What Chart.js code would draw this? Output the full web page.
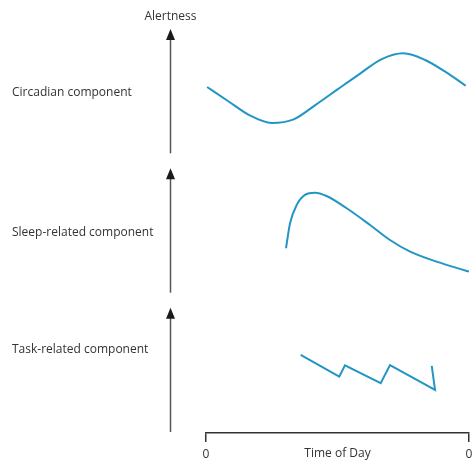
<!DOCTYPE html>
<html>
<head>
<meta charset="utf-8">
<script src="https://cdn.jsdelivr.net/npm/chart.js@4"></script>
<style>
  html, body { margin: 0; padding: 0; background: #fff; }
</style>
</head>
<body>
<canvas id="c" width="472" height="461"></canvas>
<script>
// Three components of alertness over the day (hours 0–24, arbitrary alertness units 0–10)
const componentNames = ['Circadian component', 'Sleep-related component', 'Task-related component'];
const yTitle = 'Alertness';
const xTitle = 'Time of Day';
const xTicks = [0, 24];
const xTickLabels = ['0', '0'];

const circadianHours = [0.1, 2, 4, 6, 8, 10, 12, 14, 16, 18, 20, 22, 23.7];
const circadianAlert = [4.83, 3.83, 2.79, 2.25, 2.51, 3.55, 4.66, 5.76, 6.82, 7.25, 6.77, 5.84, 4.92];

const sleepHours = [7.3, 7.67, 8.28, 9.03, 9.95, 11.0, 12.84, 14.97, 16.79, 18.62, 21.05, 24.0];
const sleepAlert = [3.26, 5.05, 6.37, 7.09, 7.25, 7.01, 6.13, 4.93, 3.85, 3.02, 2.30, 1.58];

const taskHours = [8.64, 12.16, 12.68, 15.94, 16.79, 20.90, 20.60];
const taskAlert = [5.60, 4.04, 4.86, 3.57, 4.88, 3.09, 4.81];

// vertical level (in panel units) at which each component name sits
const labelLevels = [4.4, 4.4, 6.0];

const panelAxes = ['yCirc', 'ySleep', 'yTask'];
const lineColor = '#2196c4';
const textColor = '#333333';
const fontFamily = '"Open Sans", "Noto Sans", sans-serif';

const toPoints = (xs, ys) => xs.map((x, i) => ({ x: x, y: ys[i] }));

// Arrows, component names and axis captions
const componentArrows = {
  id: 'componentArrows',
  afterDraw(chart) {
    const ctx = chart.ctx;
    const area = chart.chartArea;
    const ax = area.left - 35.5;
    ctx.save();
    ctx.font = '12px ' + fontFamily;
    panelAxes.forEach((id, i) => {
      const s = chart.scales[id];
      const tip = s.top + 14;
      const base = s.bottom - 1;
      ctx.strokeStyle = '#555555';
      ctx.lineWidth = 1.5;
      ctx.beginPath();
      ctx.moveTo(ax, base);
      ctx.lineTo(ax, tip + 8);
      ctx.stroke();
      ctx.fillStyle = '#1a1a1a';
      ctx.beginPath();
      ctx.moveTo(ax, tip);
      ctx.lineTo(ax - 4.5, tip + 11);
      ctx.lineTo(ax + 4.5, tip + 11);
      ctx.closePath();
      ctx.fill();
      ctx.fillStyle = textColor;
      ctx.textAlign = 'left';
      ctx.textBaseline = 'middle';
      ctx.fillText(componentNames[i], 12, s.getPixelForValue(labelLevels[i]));
    });
    ctx.fillStyle = textColor;
    ctx.textAlign = 'center';
    ctx.textBaseline = 'middle';
    ctx.fillText(yTitle, ax, 17);
    const xs = chart.scales.x;
    ctx.fillText(xTitle, (xs.left + xs.right) / 2, xs.top + 21);
    ctx.restore();
  }
};

const panelScale = () => ({
  type: 'linear',
  position: 'left',
  stack: 'alertness',
  stackWeight: 1,
  min: 0,
  max: 10,
  display: false
});

new Chart(document.getElementById('c'), {
  type: 'scatter',
  data: {
    datasets: [
      {
        data: toPoints(circadianHours, circadianAlert),
        yAxisID: 'yCirc',
        showLine: true,
        borderColor: lineColor,
        borderWidth: 2,
        pointRadius: 0,
        cubicInterpolationMode: 'monotone'
      },
      {
        data: toPoints(sleepHours, sleepAlert),
        yAxisID: 'ySleep',
        showLine: true,
        borderColor: lineColor,
        borderWidth: 2,
        pointRadius: 0,
        cubicInterpolationMode: 'monotone'
      },
      {
        data: toPoints(taskHours, taskAlert),
        yAxisID: 'yTask',
        showLine: true,
        borderColor: lineColor,
        borderWidth: 2,
        pointRadius: 0,
        tension: 0
      }
    ]
  },
  options: {
    responsive: false,
    animation: false,
    events: [],
    layout: {
      autoPadding: false,
      padding: { left: 206, right: 3, top: 15, bottom: 0 }
    },
    plugins: {
      legend: { display: false },
      tooltip: { enabled: false }
    },
    scales: {
      x: {
        type: 'linear',
        min: 0,
        max: 24,
        afterBuildTicks: (scale) => { scale.ticks = xTicks.map(v => ({ value: v })); },
        afterFit: (scale) => {
          scale.height = 28;
          scale.paddingLeft = 0;
          scale.paddingRight = 0;
        },
        border: { display: true, color: '#333333', width: 1.5 },
        grid: { display: true, drawOnChartArea: false, drawTicks: true, tickLength: 9, color: '#333333', lineWidth: 1.5 },
        ticks: {
          padding: 5,
          maxRotation: 0,
          color: textColor,
          font: { family: fontFamily, size: 12 },
          callback: (v, i) => xTickLabels[i]
        }
      },
      // stacked panels: the last one listed is placed on top
      yTask: panelScale(),
      ySleep: panelScale(),
      yCirc: panelScale()
    }
  },
  plugins: [componentArrows]
});
</script>
</body>
</html>
